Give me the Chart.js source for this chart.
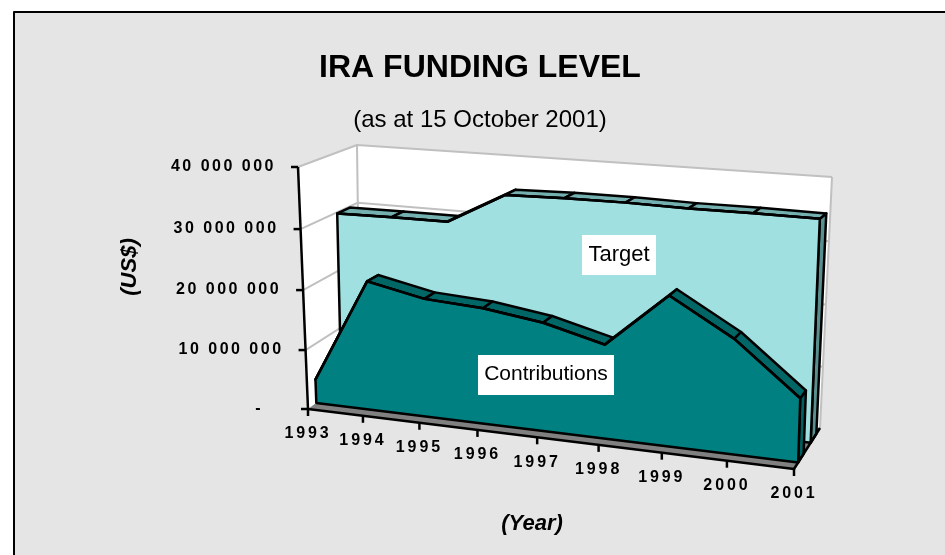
<!DOCTYPE html>
<html>
<head>
<meta charset="utf-8">
<script src="https://cdn.jsdelivr.net/npm/chart.js@4"></script>
<style>
  html, body { margin: 0; padding: 0; background: #fff; overflow: hidden; }
  canvas { display: block; }
</style>
</head>
<body>
<canvas id="funding" width="945" height="555"></canvas>
<script>
var years = ['1993', '1994', '1995', '1996', '1997', '1998', '1999', '2000', '2001'];
var contributions = [4000000, 21500000, 19500000, 18900000, 17500000, 15000000, 23600000, 17900000, 9900000];
var target = [29800000, 29900000, 29900000, 35000000, 35200000, 35200000, 35000000, 35000000, 34900000];
var yTickValues = [0, 10000000, 20000000, 30000000, 40000000];
var yTickLabels = ['-', '10 000 000', '20 000 000', '30 000 000', '40 000 000'];

var FONT = '"Liberation Sans", Arial, sans-serif';

// corners of the 3D box as seen in the picture: left-bottom, right-bottom, right-top, left-top
var frontPlane = homography([308, 409], [794, 469], [802, 199], [298, 167]);
var backPlane = homography([360, 371], [820, 428], [832, 177], [357, 145]);

// depth of each series inside the box (0 = front, 1 = back wall)
var depths = [[0.16, 0.37], [0.64, 0.86]];
var faceColors = [
    { front: '#008080', top: '#006666', side: '#006060' },
    { front: '#a0e0e0', top: '#74b0b0', side: '#5a8f8f' }
];

function homography(p0, p1, p2, p3) {
    var dx1 = p1[0] - p2[0], dx2 = p3[0] - p2[0], sx = p0[0] - p1[0] + p2[0] - p3[0];
    var dy1 = p1[1] - p2[1], dy2 = p3[1] - p2[1], sy = p0[1] - p1[1] + p2[1] - p3[1];
    var det = dx1 * dy2 - dx2 * dy1;
    var g = (sx * dy2 - dx2 * sy) / det;
    var h = (dx1 * sy - sx * dy1) / det;
    return {
        a: p1[0] - p0[0] + g * p1[0], b: p3[0] - p0[0] + h * p3[0], c: p0[0],
        d: p1[1] - p0[1] + g * p1[1], e: p3[1] - p0[1] + h * p3[1], f: p0[1],
        g: g, h: h
    };
}

function onPlane(m, u, v) {
    var q = m.g * u + m.h * v + 1;
    return [(m.a * u + m.b * v + m.c) / q, (m.d * u + m.e * v + m.f) / q];
}

function project(u, v, w) {
    var a = onPlane(frontPlane, u, v);
    var b = onPlane(backPlane, u, v);
    return [a[0] + (b[0] - a[0]) * w, a[1] + (b[1] - a[1]) * w];
}

// scale position -> position inside the box
function boxPoint(chart, index, value, w) {
    var xs = chart.scales.x, ys = chart.scales.y;
    var u = (xs.getPixelForValue(index) - xs.left) / xs.width;
    var v = (ys.bottom - ys.getPixelForValue(value)) / ys.height;
    return project(u, v, w);
}

function poly(ctx, pts, fill, stroke, lw) {
    ctx.beginPath();
    pts.forEach(function(p, i) {
        if (i === 0) ctx.moveTo(p[0], p[1]); else ctx.lineTo(p[0], p[1]);
    });
    if (fill) {
        ctx.closePath();
        ctx.fillStyle = fill;
        ctx.fill();
    }
    if (stroke) {
        ctx.strokeStyle = stroke;
        ctx.lineWidth = lw;
        ctx.lineJoin = 'round';
        ctx.stroke();
    }
}

function label(ctx, text, x, y, font, spacing, align) {
    ctx.font = font;
    ctx.letterSpacing = spacing || '0px';
    ctx.textAlign = align || 'center';
    ctx.textBaseline = 'middle';
    ctx.fillStyle = '#000';
    ctx.fillText(text, x, y);
    ctx.letterSpacing = '0px';
}

var box3d = {
    id: 'box3d',
    afterDatasetsUpdate: function(chart) {
        chart.data.datasets.forEach(function(ds, di) {
            chart.getDatasetMeta(di).data.forEach(function(el, i) {
                var p = boxPoint(chart, i, ds.data[i], depths[di][0]);
                el.x = p[0];
                el.y = p[1];
            });
        });
    },
    beforeDraw: function(chart) {
        var ctx = chart.ctx;
        ctx.save();
        ctx.fillStyle = '#fff';
        ctx.fillRect(0, 0, 945, 555);
        ctx.fillStyle = '#e5e5e5';
        ctx.fillRect(14, 12, 931, 543);
        poly(ctx, [[14, 555], [14, 12], [945, 12]], null, '#000', 2);
        ctx.restore();
    },
    beforeDatasetsDraw: function(chart) {
        var ctx = chart.ctx;
        var ys = chart.scales.y;
        var vOf = function(val) { return (ys.bottom - ys.getPixelForValue(val)) / ys.height; };
        ctx.save();
        // walls and floor
        poly(ctx, [project(0, 0, 0), project(0, 0, 1), project(0, 1, 1), project(0, 1, 0)], '#fff');
        poly(ctx, [project(0, 0, 1), project(1, 0, 1), project(1, 1, 1), project(0, 1, 1)], '#fff');
        poly(ctx, [project(0, 0, 0), project(1, 0, 0), project(1, 0, 1), project(0, 0, 1)], '#808080');
        yTickValues.forEach(function(val) {
            var v = vOf(val);
            if (val > 0) poly(ctx, [project(0, v, 0), project(0, v, 1), project(1, v, 1)], null, '#c0c0c0', 2);
        });
        poly(ctx, [project(0, 0, 1), project(0, 1, 1)], null, '#c0c0c0', 2);
        poly(ctx, [project(1, 1, 1), project(1, 0, 1)], null, '#c0c0c0', 2);
        ctx.restore();
    },
    beforeDatasetDraw: function(chart, args) {
        var ctx = chart.ctx;
        var di = args.index;
        var data = chart.data.datasets[di].data;
        var w0 = depths[di][0], w1 = depths[di][1];
        var col = faceColors[di];
        var n = data.length - 1;
        ctx.save();
        // side face at the last year
        poly(ctx, [boxPoint(chart, n, data[n], w0), boxPoint(chart, n, data[n], w1),
            boxPoint(chart, n, 0, w1), boxPoint(chart, n, 0, w0)], col.side, '#000', 2.5);
        // top faces, one per year step
        for (var i = 0; i < n; i++) {
            poly(ctx, [boxPoint(chart, i, data[i], w0), boxPoint(chart, i + 1, data[i + 1], w0),
                boxPoint(chart, i + 1, data[i + 1], w1), boxPoint(chart, i, data[i], w1),
                boxPoint(chart, i, data[i], w0)], col.top, '#000', 2.5);
        }
        // front face down to zero
        var front = data.map(function(val, idx) { return boxPoint(chart, idx, val, w0); });
        front.push(boxPoint(chart, n, 0, w0));
        front.push(boxPoint(chart, 0, 0, w0));
        front.push(front[0]);
        poly(ctx, front, col.front, '#000', 2.5);
        ctx.restore();
    },
    afterDatasetsDraw: function(chart) {
        var ctx = chart.ctx;
        var ys = chart.scales.y;
        ctx.save();
        // y axis with ticks
        poly(ctx, [project(0, 1, 0), project(0, 0, 0)], null, '#000', 2.5);
        yTickValues.forEach(function(val, i) {
            var p = project(0, (ys.bottom - ys.getPixelForValue(val)) / ys.height, 0);
            poly(ctx, [[p[0] - 7, p[1]], p], null, '#000', 2.5);
            var endX = val === 0 ? p[0] - 45 : p[0] - 22;
            label(ctx, yTickLabels[i], endX, p[1], 'bold 16px ' + FONT, '2.5px', 'right');
        });
        // x axis with ticks
        poly(ctx, [project(0, 0, 0), project(1, 0, 0), project(1, 0, 1)], null, '#000', 2.5);
        years.forEach(function(year, i) {
            var p = boxPoint(chart, i, 0, 0);
            poly(ctx, [p, [p[0], p[1] + 7]], null, '#000', 2.5);
            label(ctx, year, p[0], p[1] + 25, 'bold 16px ' + FONT, '2.9px');
        });
        // axis titles
        label(ctx, '(Year)', 532, 524, 'italic bold 22px ' + FONT);
        ctx.translate(130, 267);
        ctx.rotate(-Math.PI / 2);
        label(ctx, '(US$)', 0, 0, 'italic bold 22px ' + FONT);
        ctx.rotate(Math.PI / 2);
        ctx.translate(-130, -267);
        // series name boxes
        ctx.fillStyle = '#fff';
        ctx.fillRect(582, 235, 74, 40);
        ctx.fillRect(478, 355, 136, 40);
        label(ctx, 'Target', 619, 255, '22px ' + FONT);
        label(ctx, 'Contributions', 546, 374, '21px ' + FONT);
        ctx.restore();
    }
};

var fundingChart = new Chart(document.getElementById('funding'), {
    type: 'line',
    plugins: [box3d],
    data: {
        labels: years,
        datasets: [
            {
                label: 'Contributions',
                data: contributions,
                fill: false,
                clip: false,
                borderColor: '#000',
                borderWidth: 2.5,
                backgroundColor: '#008080',
                pointRadius: 0
            },
            {
                label: 'Target',
                data: target,
                fill: false,
                clip: false,
                borderColor: '#000',
                borderWidth: 2.5,
                backgroundColor: '#a0e0e0',
                pointRadius: 0
            }
        ]
    },
    options: {
        responsive: false,
        animation: false,
        events: [],
        layout: { padding: { left: 15 } },
        scales: {
            x: { display: false },
            y: { display: false, min: 0, max: 40000000 }
        },
        plugins: {
            legend: { display: false },
            tooltip: { enabled: false },
            title: {
                display: true,
                text: 'IRA FUNDING LEVEL',
                color: '#000',
                font: { family: FONT, size: 32, weight: 'bold' },
                padding: { top: 49, bottom: 10 }
            },
            subtitle: {
                display: true,
                text: '(as at 15 October 2001)',
                color: '#000',
                font: { family: FONT, size: 24, weight: 'normal' },
                padding: { top: 9, bottom: 10 }
            }
        }
    }
});
</script>
</body>
</html>
